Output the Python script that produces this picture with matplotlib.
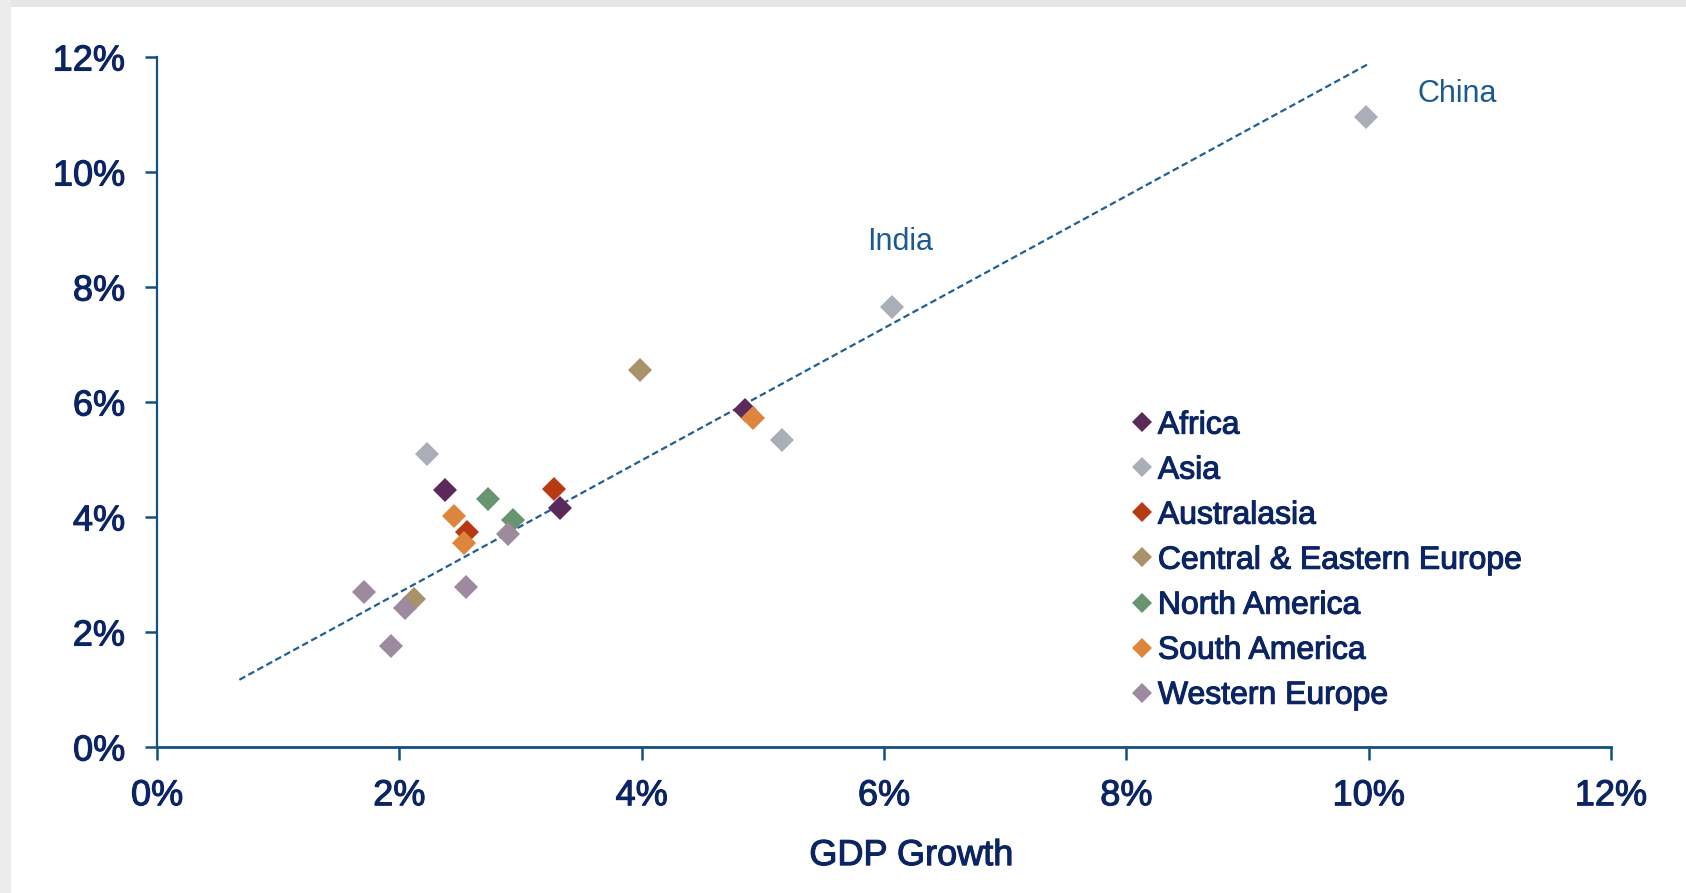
import matplotlib
matplotlib.use("Agg")
import matplotlib.pyplot as plt
import matplotlib.patheffects as pe
from matplotlib.patches import Rectangle
from matplotlib.ticker import FuncFormatter

plt.rcParams['font.family'] = ['Liberation Sans', 'DejaVu Sans']

# ---- data (GDP growth %, y-value %) ----
regions = ["Africa", "Asia", "Australasia", "Central & Eastern Europe",
           "North America", "South America", "Western Europe"]
colors = ["#5B2A5A", "#A9AEB8", "#B83A12", "#A8926A", "#6A9470", "#DD853D", "#9E8A9E"]

africa_x = [4.85, 2.38, 3.33]
africa_y = [5.86, 4.47, 4.16]
asia_x = [9.98, 6.07, 5.16, 2.23]
asia_y = [10.95, 7.65, 5.34, 5.10]
australasia_x = [3.28, 2.56]
australasia_y = [4.49, 3.74]
cee_x = [3.99, 2.12]
cee_y = [6.55, 2.57]
namerica_x = [2.73, 2.94]
namerica_y = [4.31, 3.95]
samerica_x = [4.92, 2.45, 2.53]
samerica_y = [5.73, 4.02, 3.55]
weurope_x = [2.90, 2.55, 1.71, 2.05, 1.93]
weurope_y = [3.70, 2.79, 2.70, 2.41, 1.76]

series_x = [africa_x, asia_x, australasia_x, cee_x, namerica_x, samerica_x, weurope_x]
series_y = [africa_y, asia_y, australasia_y, cee_y, namerica_y, samerica_y, weurope_y]

trend_x = [0.68, 9.99]
trend_y = [1.17, 11.87]

labels_text = ["China", "India"]
labels_x = [10.40, 5.86]
labels_y = [11.22, 8.64]

x_ticks = [0, 2, 4, 6, 8, 10, 12]
y_ticks = [0, 2, 4, 6, 8, 10, 12]

navy = "#0B2463"
blue = "#11507F"
heavy = [pe.withStroke(linewidth=0.8, foreground=navy)]

fig = plt.figure(figsize=(16.86, 8.93), dpi=100)
# shadow frame
fig.patches.append(Rectangle((0, 1 - 7/893), 1, 7/893, transform=fig.transFigure,
                             facecolor="#E6E6E6", edgecolor="none", zorder=0))
fig.patches.append(Rectangle((0, 0), 11/1686, 1, transform=fig.transFigure,
                             facecolor="#ECECEC", edgecolor="none", zorder=0))

ax = fig.add_axes([157/1686, (893-747)/893, (1611-157)/1686, (747-57)/893])

ax.plot(trend_x, trend_y, linestyle=(0, (3, 1.6)), color="#1F5F93", linewidth=1.6, zorder=2)

for name, c, xs, ys in zip(regions, colors, series_x, series_y):
    ax.plot(xs, ys, linestyle="none", marker="D", markersize=12.5, color=c,
            markeredgewidth=0, label=name, zorder=3)

for t, x, y in zip(labels_text, labels_x, labels_y):
    ax.text(x, y, t, fontsize=22, color="#1B5A8F", ha="left", va="baseline")

ax.set_xlim(0, 12)
ax.set_ylim(0, 12)
ax.set_xticks(x_ticks)
ax.set_yticks(y_ticks)
fmt = FuncFormatter(lambda v, p: f"{int(round(v))}%")
ax.xaxis.set_major_formatter(fmt)
ax.yaxis.set_major_formatter(fmt)

for s in ["top", "right"]:
    ax.spines[s].set_visible(False)
for s in ["left", "bottom"]:
    ax.spines[s].set_color(blue)
ax.spines["left"].set_linewidth(1.6)
ax.spines["bottom"].set_linewidth(2.0)
ax.tick_params(axis="both", colors=blue, width=1.8, length=9, direction="out",
               labelsize=26, labelcolor=navy)
ax.tick_params(axis="x", pad=13.5)
ax.tick_params(axis="y", pad=14)
for lab in ax.get_xticklabels() + ax.get_yticklabels():
    lab.set_path_effects(heavy)

ax.set_xlabel("GDP Growth", fontsize=26, color=navy, path_effects=heavy)
ax.xaxis.set_label_coords(0.519, -0.132)

leg = ax.legend(loc="upper left", bbox_to_anchor=(0.662, 0.506), frameon=False,
                fontsize=23, handlelength=0.6, handletextpad=0.2, labelspacing=0.47,
                markerscale=0.82, borderaxespad=0)
for t in leg.get_texts():
    t.set_color(navy)
    t.set_path_effects(heavy)

fig.savefig("out.png", dpi=100, facecolor="white")
